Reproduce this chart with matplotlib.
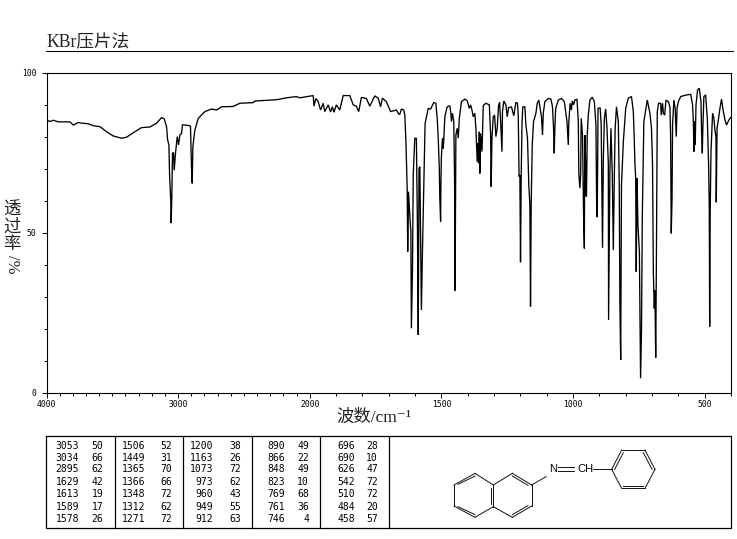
import numpy as np
import matplotlib
matplotlib.use("Agg")
import matplotlib.pyplot as plt

# spectre : nombre d'onde / transmittance
wn_left = [3999, 3974, 3948, 3910, 3822, 3796, 3758, 3733, 3682, 3645, 3594, 3543, 3493, 3430, 3392, 3341,
           3278, 3214, 3164, 3126, 3106, 3088, 3080, 3070, 3065, 3055, 3053, 3048, 3043, 3035, 3030, 3020,
           3007, 2997, 2987, 2974, 2967, 2911, 2906, 2898, 2893, 2888, 2873, 2847, 2797, 2746, 2708, 2670,
           2582, 2531, 2430, 2418, 2329, 2253, 2177, 2101, 2076, 1987]
tr_left = [85.2, 84.7, 85.1, 84.6, 84.6, 83.6, 84.4, 84.2, 84.0, 83.4, 83.1, 81.5, 80.2, 79.5, 79.8, 81.2,
           82.8, 83.0, 84.2, 85.9, 85.6, 83.1, 79.0, 77.4, 68.0, 59.0, 53.0, 61.0, 74.8, 75.0, 69.5, 74.8,
           80.0, 77.4, 80.5, 81.0, 83.7, 83.4, 83.0, 69.6, 65.4, 76.9, 82.0, 85.7, 87.8, 88.6, 88.3, 89.3,
           89.4, 90.4, 90.6, 91.1, 91.3, 91.5, 92.1, 92.5, 92.1, 92.8]

wn_mid1 = [1984, 1977, 1968, 1959, 1949, 1943, 1930, 1921, 1914, 1908, 1899, 1886, 1873, 1848, 1835, 1823,
           1814, 1804, 1785, 1772, 1753, 1740, 1731, 1724, 1709, 1693, 1671, 1662, 1658, 1652, 1643, 1639]
tr_mid1 = [89.5, 91.9, 90.9, 88.3, 90.4, 87.8, 89.9, 87.7, 89.3, 87.6, 89.9, 88.3, 92.8, 92.8, 89.9, 89.5,
           87.8, 92.2, 91.9, 89.5, 92.7, 92.0, 89.3, 92.0, 90.9, 87.8, 88.3, 87.0, 87.0, 88.6, 88.3, 86.7]

wn_mid2 = [1635, 1630, 1628, 1625, 1620, 1616, 1614, 1610, 1607, 1601, 1595, 1591, 1588, 1585, 1582, 1579.5,
           1576, 1572, 1567, 1562, 1554, 1550, 1541, 1529, 1521, 1516, 1512, 1508, 1506, 1503, 1502, 1500,
           1496, 1493, 1491, 1487, 1478, 1468, 1464, 1462, 1458, 1453, 1450, 1448, 1445, 1440, 1436, 1432,
           1424, 1411, 1402, 1394, 1389, 1384, 1379, 1373, 1369, 1364, 1361, 1359, 1356, 1354, 1351, 1346,
           1344, 1341, 1331, 1318, 1313, 1311, 1308, 1303, 1298, 1293, 1288, 1283, 1279, 1275, 1270, 1268,
           1263, 1255, 1250, 1245, 1234, 1225, 1217]
tr_mid2 = [79.0, 63.9, 44.1, 62.8, 55.5, 50.3, 20.2, 37.9, 68.0, 79.5, 79.5, 51.4, 18.1, 70.1, 70.6, 51.4,
           25.9, 44.1, 64.9, 84.1, 87.3, 88.8, 88.6, 90.6, 90.4, 85.7, 79.5, 70.1, 60.7, 53.5, 64.9, 73.7,
           79.5, 76.3, 79.0, 86.2, 89.3, 89.6, 87.3, 84.7, 87.3, 84.7, 66.5, 31.9, 80.5, 82.6, 79.5, 85.7,
           90.9, 91.7, 91.2, 88.8, 89.9, 88.3, 86.2, 87.3, 82.6, 72.2, 77.9, 71.7, 81.5, 68.5, 81.0, 75.3,
           80.5, 89.7, 90.4, 89.9, 80.5, 64.4, 79.5, 86.2, 86.7, 80.0, 82.6, 89.7, 90.7, 84.7, 75.3, 87.8,
           91.1, 89.9, 86.2, 89.0, 89.3, 86.5, 90.7]

wn_mid3 = [1211, 1208, 1205, 1202, 1199.5, 1197, 1194, 1191, 1183, 1179, 1173, 1168, 1164, 1161.5, 1159, 1155,
           1150, 1141, 1136, 1130, 1125, 1120, 1116, 1113, 1107, 1094, 1084, 1078, 1074, 1071.5, 1069, 1066,
           1056, 1044, 1033, 1028, 1023, 1018, 1016, 1011, 1006, 1003, 998, 993, 985, 980, 978, 974,
           971, 969, 964, 960, 957, 956, 954, 951, 949, 946, 942, 936, 927, 919, 913, 910,
           908, 905, 897, 893, 888, 885, 881, 876, 871, 866, 865, 860, 856, 851, 847, 843]
tr_mid3 = [90.4, 86.2, 67.5, 68.0, 40.8, 67.0, 83.6, 89.3, 89.3, 83.6, 79.5, 64.9, 58.7, 27.0, 58.7, 77.4,
           84.7, 87.3, 90.4, 91.4, 88.8, 86.2, 80.5, 87.3, 90.9, 91.9, 91.7, 89.3, 82.6, 74.8, 82.6, 88.8,
           91.4, 91.9, 90.9, 87.8, 84.7, 77.4, 84.7, 90.4, 88.3, 91.1, 89.9, 91.4, 91.7, 84.7, 68.5, 63.9,
           68.5, 85.7, 80.5, 55.5, 45.1, 69.0, 80.5, 61.8, 61.3, 80.5, 86.7, 91.4, 92.3, 90.9, 83.6, 55.0,
           55.0, 88.8, 89.0, 83.6, 45.3, 72.7, 85.7, 88.6, 82.6, 71.7, 22.8, 69.0, 82.6, 68.5, 44.6, 68.5]

wn_right = [840, 835, 828, 824.5, 822, 819, 816, 809, 800, 790, 778, 771, 767.5, 765, 762, 760,
            757, 753.5, 748, 745, 743.5, 740, 737, 731, 718, 708, 702, 698, 695, 691.5, 689, 686,
            684, 680, 675, 667, 665, 660, 657, 652, 647, 638, 632, 629.4, 627, 624, 622, 617,
            612, 608, 605, 600, 591, 569, 553, 546, 543, 541, 538, 536, 533, 527, 520.5, 514,
            512, 509, 507, 503, 496.4, 490, 485, 482.5, 481, 479, 476, 470, 465, 461, 457,
            456, 453, 448, 442, 436, 429, 423, 417, 408, 400]
tr_right = [82.6, 89.3, 84.7, 64.9, 27.5, 10.3, 64.9, 78.4, 88.8, 92.0, 92.5, 87.8, 79.5, 71.7, 67.0, 37.9,
            67.0, 52.4, 44.1, 19.7, 4.6, 19.1, 54.5, 84.7, 91.4, 87.3, 82.6, 71.1, 37.9, 26.4, 32.0, 11.0,
            33.7, 87.8, 90.4, 90.4, 86.7, 90.4, 87.3, 86.7, 91.4, 90.9, 89.3, 80.5, 49.8, 60.2, 83.6, 91.4,
            88.8, 80.0, 88.8, 90.9, 92.5, 93.0, 93.2, 89.9, 84.7, 75.3, 84.7, 77.4, 89.9, 94.5, 95.1, 90.9,
            82.6, 74.8, 82.6, 92.5, 93.0, 85.7, 71.1, 57.6, 20.7, 57.1, 75.3, 87.3, 85.7, 82.0, 80.0,
            59.5, 82.6, 85.2, 88.8, 91.7, 87.8, 85.2, 83.6, 85.2, 86.0]

wavenumber = wn_left + wn_mid1 + wn_mid2 + wn_mid3 + wn_right
transmit = tr_left + tr_mid1 + tr_mid2 + tr_mid3 + tr_right

x_major = [4000, 3000, 2000, 1500, 1000, 500]
y_major = [0, 50, 100]

# tableau des pics, une liste par colonne
peak_wn = [["3053", "3034", "2895", "1629", "1613", "1589", "1578"],
           ["1506", "1449", "1365", "1366", "1348", "1312", "1271"],
           ["1200", "1163", "1073", "973", "960", "949", "912"],
           ["890", "866", "848", "823", "769", "761", "746"],
           ["696", "690", "626", "542", "510", "484", "458"]]
peak_t = [["50", "66", "62", "42", "19", "17", "26"],
          ["52", "31", "70", "66", "72", "62", "72"],
          ["38", "26", "72", "62", "43", "55", "63"],
          ["49", "22", "49", "10", "68", "36", "4"],
          ["28", "10", "47", "72", "72", "20", "57"]]
col_wn_right = [79, 145, 213.5, 285, 355]
col_t_right = [103.5, 172, 241.5, 309, 378]
row_y = [445.7, 457.8, 469.5, 481.7, 494, 506.5, 519]

W, H = 737, 539
cjk_serif = ["Liberation Serif", "Noto Sans CJK SC", "DejaVu Sans"]


def fwd(w):
    # l'axe change d'echelle a 2000 cm-1
    w = np.asarray(w, dtype=float)
    return np.where(w >= 2000, w / 2 + 1000, w)


def inv(v):
    v = np.asarray(v, dtype=float)
    return np.where(v >= 2000, (v - 1000) * 2, v)


fig = plt.figure(figsize=(W / 100, H / 100), dpi=100, facecolor="white")

# calque en pixels pour le titre, le tableau et la molecule
over = fig.add_axes([0, 0, 1, 1])
over.set_xlim(0, W)
over.set_ylim(H, 0)
over.axis("off")

ax = fig.add_axes([46.5 / W, 1 - 393 / H, (731 - 46.5) / W, (393 - 72.5) / H])
ax.set_xscale("function", functions=(fwd, inv))
ax.set_xlim(4000, 400)
ax.set_ylim(0, 100)
ax.patch.set_alpha(0)
ax.plot(wavenumber, transmit, color="black", lw=0.95, solid_joinstyle="miter")

ax.set_xticks(x_major)
ax.set_xticklabels([str(v) for v in x_major], family="DejaVu Sans Mono", fontsize=5.8)
ax.set_xticks(np.arange(400, 4001, 100), minor=True)
ax.set_yticks(y_major)
ax.set_yticklabels([str(v) for v in y_major], family="DejaVu Sans Mono", fontsize=5.8)
ax.set_yticks(np.arange(0, 101, 10), minor=True)
ax.xaxis.set_minor_formatter(plt.NullFormatter())
ax.tick_params(which="major", length=3.6, width=0.7, pad=1.5)
ax.tick_params(which="minor", length=2.2, width=0.7)
ax.tick_params(axis="y", which="major", pad=3.5)
for sp in ax.spines.values():
    sp.set_linewidth(0.8)

# titre et libelles d'axes
over.text(46, 51, "KBr压片法", family=cjk_serif, fontsize=12.7, ha="left", va="bottom", color="#222222")
over.plot([46, 733], [50.5, 50.5], color="black", lw=0.8)
over.text(374, 417.5, "波数/cm⁻¹", family=cjk_serif, fontsize=12.5, ha="center", va="center", color="#222222")
over.text(12, 227, "透\n过\n率", family="Noto Sans CJK SC", fontsize=12.5, ha="center", va="center",
          linespacing=0.95, color="#222222")
over.text(12, 264, "/%", family="Liberation Serif", fontsize=12, rotation=-90, ha="center", va="center",
          color="#222222")

# tableau
over.plot([46.5, 731.5, 731.5, 46.5, 46.5], [435.5, 435.5, 527.5, 527.5, 435.5], color="black", lw=0.9)
for xd in [115.5, 183.5, 252.5, 320.5, 389.5]:
    over.plot([xd, xd], [435.5, 527.5], color="black", lw=0.9)
for c in range(5):
    for r in range(7):
        over.text(col_wn_right[c], row_y[r], peak_wn[c][r], family="DejaVu Sans Mono", fontsize=7,
                  ha="right", va="center")
        over.text(col_t_right[c], row_y[r], peak_t[c][r], family="DejaVu Sans Mono", fontsize=7,
                  ha="right", va="center")


# molecule, coordonnees du zoom de l'image
def mol(x1, y1, x2, y2):
    over.plot([390 + x1 / 3, 390 + x2 / 3], [430 + y1 / 3, 430 + y2 / 3], color="#111111", lw=0.7)


ring1 = [(192, 165), (255, 130), (310, 165), (310, 230), (255, 262), (192, 228)]
ring2 = [(310, 165), (367, 130), (425, 165), (425, 228), (367, 262), (310, 230)]
ring3 = [(665, 118), (695, 60), (765, 60), (795, 118), (765, 175), (695, 175)]
for ring in [ring1, ring2, ring3]:
    for i in range(6):
        a, b = ring[i], ring[(i + 1) % 6]
        mol(a[0], a[1], b[0], b[1])
mol(204, 163, 255, 138)
mol(204, 230, 255, 254)
mol(302, 175, 302, 222)
mol(367, 138, 414, 166)
mol(414, 227, 367, 254)
mol(674, 118, 700, 68)
mol(760, 68, 786, 118)
mol(700, 168, 760, 168)
mol(425, 165, 468, 140)
mol(505, 112, 552, 112)
mol(505, 122, 552, 122)
mol(610, 118, 665, 118)
over.text(390 + 490 / 3, 430 + 118 / 3, "N", family="Liberation Sans", fontsize=8, ha="center", va="center")
over.text(390 + 585 / 3, 430 + 118 / 3, "CH", family="Liberation Sans", fontsize=8, ha="center", va="center")

fig.savefig("out.png", dpi=100)
